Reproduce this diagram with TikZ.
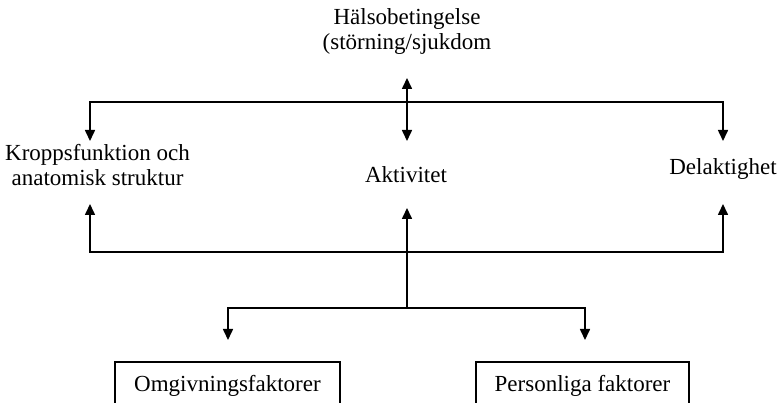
\documentclass[tikz,border=0pt]{standalone}
\usepackage{fontspec}
\setmainfont{Liberation Serif}
\usetikzlibrary{arrows.meta}
\begin{document}
\begin{tikzpicture}[x=1pt,y=-1pt,
  lbl/.style={font=\fontsize{23}{24.5}\selectfont, inner sep=0pt, align=center},
  hline/.style={line width=1.1pt, line cap=rect},
  vline/.style={line width=1.6pt},
  arr/.style={vline, -{Triangle[length=11pt,width=10pt]}},
  dbl/.style={vline, {Triangle[length=11pt,width=10pt]}-{Triangle[length=11pt,width=10pt]}},
  factbox/.style={lbl, draw, line width=1.1pt, minimum height=48pt}]
\useasboundingbox (0,0) rectangle (777,403);
\clip (0,0) rectangle (777,403);
% nodes
\node[lbl] (hals) at (407,31.5) {Hälsobetingelse\\(störning/sjukdom};
\node[lbl] (kropp) at (97.5,165) {Kroppsfunktion och\\anatomisk struktur};
\node[lbl, anchor=base] (akt) at (406,183) {Aktivitet};
\node[lbl, anchor=base] (del) at (723,175) {Delaktighet};
\node[factbox, minimum width=225pt] (omg) at (227.5,386) {Omgivningsfaktorer};
\node[factbox, minimum width=213pt] (pers) at (582.5,386) {Personliga faktorer};
% junction coordinates
\coordinate (hTop) at (407,78);
\coordinate (hBot) at (407,141);
\coordinate (tl) at (90,102);
\coordinate (tr) at (723,102);
\coordinate (kIn) at (90,141);
\coordinate (dIn) at (723,141);
\coordinate (bl) at (90,252);
\coordinate (br) at (723,252);
\coordinate (kOut) at (90,204);
\coordinate (dOut) at (723,204);
\coordinate (mb) at (407,308);
\coordinate (aIn) at (407,208);
\coordinate (ll) at (228,308);
\coordinate (lr) at (585,308);
\coordinate (oIn) at (228,340);
\coordinate (pIn) at (585,340);
% connectors
\draw[hline] (tl) -- (tr);
\draw[dbl] (hTop) -- (hBot);
\draw[arr] (tl) -- (kIn);
\draw[arr] (tr) -- (dIn);
\draw[hline] (bl) -- (br);
\draw[arr] (bl) -- (kOut);
\draw[arr] (br) -- (dOut);
\draw[arr] (mb) -- (aIn);
\draw[hline] (ll) -- (lr);
\draw[arr] (ll) -- (oIn);
\draw[arr] (lr) -- (pIn);
\end{tikzpicture}
\end{document}
